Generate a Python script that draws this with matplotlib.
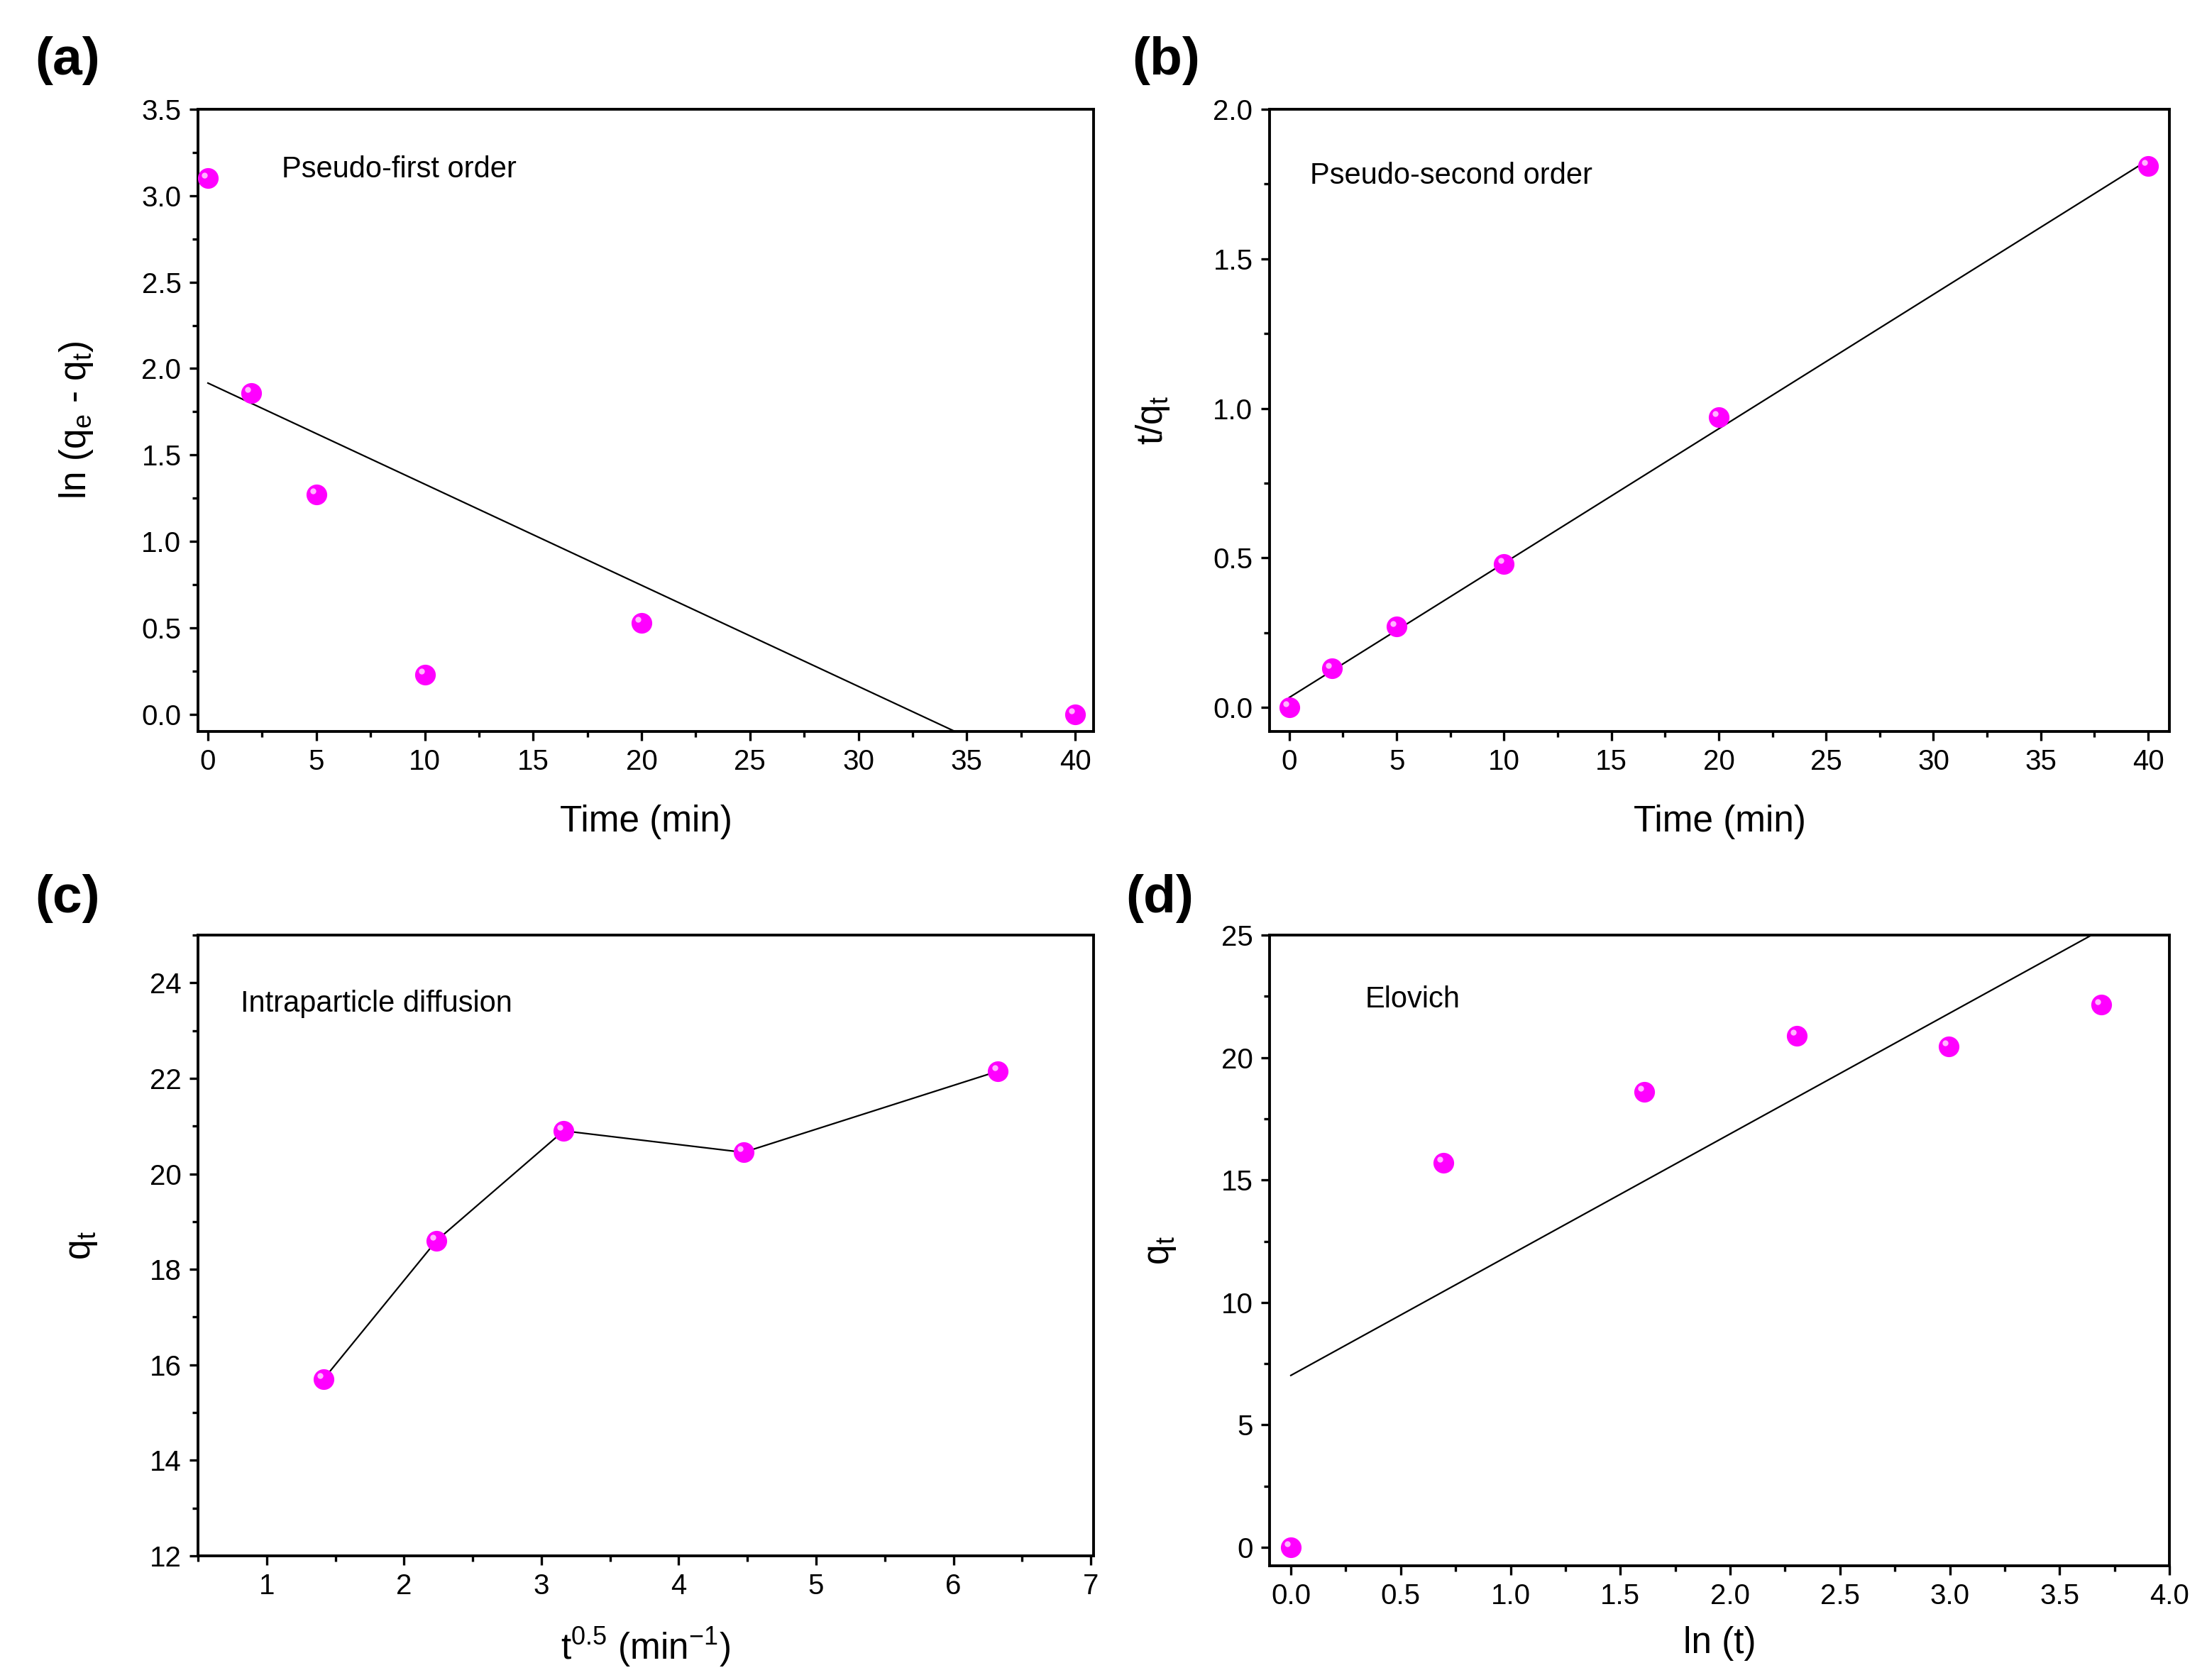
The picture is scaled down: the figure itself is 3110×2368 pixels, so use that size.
import numpy as np
import matplotlib
matplotlib.use("Agg")
import matplotlib.pyplot as plt
from matplotlib.ticker import MultipleLocator, FormatStrFormatter
from matplotlib.transforms import offset_copy

plt.rcParams['font.family'] = ['Liberation Sans', 'DejaVu Sans']
plt.rcParams['mathtext.fontset'] = 'custom'
plt.rcParams['mathtext.rm'] = 'Liberation Sans'
plt.rcParams['mathtext.it'] = 'Liberation Sans'

# ---- data ----
t_min = [0, 2, 5, 10, 20, 40]
ln_qe_qt = [3.10, 1.86, 1.27, 0.23, 0.53, 0.00]
t_over_qt = [0.00, 0.13, 0.27, 0.48, 0.97, 1.81]
sqrt_t = [1.414, 2.236, 3.162, 4.472, 6.325]
qt_c = [15.7, 18.6, 20.9, 20.45, 22.15]
ln_t = [0.0, 0.693, 1.609, 2.303, 2.996, 3.689]
qt_d = [0.0, 15.7, 18.6, 20.9, 20.45, 22.15]

panel_labels = ['(a)', '(b)', '(c)', '(d)']
model_names = ['Pseudo-first order', 'Pseudo-second order',
               'Intraparticle diffusion', 'Elovich']

W, H = 3110, 2368
fig = plt.figure(figsize=(W / 100, H / 100), dpi=100)

def box(l, r, t, b):
    return [l / W, 1 - b / H, (r - l) / W, (b - t) / H]

ax_a = fig.add_axes(box(279, 1541, 154, 1031))
ax_b = fig.add_axes(box(1789, 3057, 154, 1031))
ax_c = fig.add_axes(box(279, 1541, 1318, 2193))
ax_d = fig.add_axes(box(1789, 3057, 1318, 2207))

MC = '#FF00FF'
HC = '#FFB3FF'
TICK_FS = 29
LAB_FS = 37
ANN_FS = 30

def markers(ax, x, y):
    ax.plot(x, y, 'o', color=MC, markersize=21, markeredgewidth=0, zorder=4, clip_on=False)
    tr = offset_copy(ax.transData, fig=fig, x=-3.5, y=3.5, units='points')
    ax.plot(x, y, 'o', color=HC, markersize=6, markeredgewidth=0, transform=tr,
            zorder=5, clip_on=False)

def style(ax, xmaj, xmin, ymaj, ymin, xfmt, yfmt):
    for s in ax.spines.values():
        s.set_linewidth(2.8)
    ax.xaxis.set_major_locator(MultipleLocator(xmaj))
    ax.xaxis.set_minor_locator(MultipleLocator(xmin))
    ax.yaxis.set_major_locator(MultipleLocator(ymaj))
    ax.yaxis.set_minor_locator(MultipleLocator(ymin))
    ax.xaxis.set_major_formatter(FormatStrFormatter(xfmt))
    ax.yaxis.set_major_formatter(FormatStrFormatter(yfmt))
    ax.tick_params(which='both', direction='out', top=False, right=False,
                   width=2.4, labelsize=TICK_FS)
    ax.tick_params(which='major', length=9, pad=8)
    ax.tick_params(which='minor', length=6)

# (a) pseudo-first order
markers(ax_a, t_min, ln_qe_qt)
pa = np.polyfit(t_min, ln_qe_qt, 1)
xa = np.array([t_min[0], t_min[-1]])
ax_a.plot(xa, np.polyval(pa, xa), color='black', lw=1.6, zorder=3)
ax_a.set_xlim(-0.46, 40.85)
ax_a.set_ylim(-0.1, 3.5)
style(ax_a, 5, 2.5, 0.5, 0.25, '%d', '%.1f')
ax_a.set_xlabel('Time (min)', fontsize=LAB_FS)
ax_a.set_ylabel(r'ln (q$_\mathregular{e}$ - q$_\mathregular{t}$)', fontsize=LAB_FS)

# (b) pseudo-second order
markers(ax_b, t_min, t_over_qt)
pb = np.polyfit(t_min, t_over_qt, 1)
xb = np.array([t_min[0], t_min[-1]])
ax_b.plot(xb, np.polyval(pb, xb), color='black', lw=1.6, zorder=3)
ax_b.set_xlim(-0.92, 40.99)
ax_b.set_ylim(-0.08, 2.0)
style(ax_b, 5, 2.5, 0.5, 0.25, '%d', '%.1f')
ax_b.set_xlabel('Time (min)', fontsize=LAB_FS)
ax_b.set_ylabel(r't/q$_\mathregular{t}$', fontsize=LAB_FS)

# (c) intraparticle diffusion
ax_c.plot(sqrt_t, qt_c, color='black', lw=1.6, zorder=3)
markers(ax_c, sqrt_t, qt_c)
ax_c.set_xlim(0.5, 7.02)
ax_c.set_ylim(12, 25)
style(ax_c, 1, 0.5, 2, 1, '%d', '%d')
ax_c.set_xlabel(r't$^\mathregular{0.5}$ (min$^\mathregular{-1}$)', fontsize=LAB_FS)
ax_c.set_ylabel(r'q$_\mathregular{t}$', fontsize=LAB_FS)

# (d) Elovich
markers(ax_d, ln_t, qt_d)
pd_ = np.polyfit(ln_t, qt_d, 1)
xd = np.array([ln_t[0], ln_t[-1]])
ax_d.plot(xd, np.polyval(pd_, xd), color='black', lw=1.6, zorder=3)
ax_d.set_xlim(-0.097, 4.0)
ax_d.set_ylim(-0.75, 25)
style(ax_d, 0.5, 0.25, 5, 2.5, '%.1f', '%d')
ax_d.set_xlabel('ln (t)', fontsize=LAB_FS)
ax_d.set_ylabel(r'q$_\mathregular{t}$', fontsize=LAB_FS)

# label coordinates
ax_a.yaxis.set_label_coords(-0.115, 0.5)
ax_b.yaxis.set_label_coords(-0.109, 0.5)
ax_c.yaxis.set_label_coords(-0.110, 0.5)
ax_d.yaxis.set_label_coords(-0.102, 0.5)
ax_a.xaxis.set_label_coords(0.5, -0.118)
ax_b.xaxis.set_label_coords(0.5, -0.118)
ax_c.xaxis.set_label_coords(0.5, -0.112)
ax_d.xaxis.set_label_coords(0.5, -0.096)

# annotations
ann_pos = [(0.0935, 0.89), (0.045, 0.88), (0.0475, 0.877), (0.106, 0.885)]
for ax, name, (x, y) in zip([ax_a, ax_b, ax_c, ax_d], model_names, ann_pos):
    ax.text(x, y, name, transform=ax.transAxes, fontsize=ANN_FS,
            va='baseline', ha='left')

# panel labels
pl_pos = [(0.0158, 0.964), (0.513, 0.964), (0.0158, 0.465), (0.510, 0.465)]
for lab, (x, y) in zip(panel_labels, pl_pos):
    fig.text(x, y, lab, fontsize=54, fontweight='bold', va='center', ha='left')

fig.savefig('out.png', dpi=100, facecolor='white')
